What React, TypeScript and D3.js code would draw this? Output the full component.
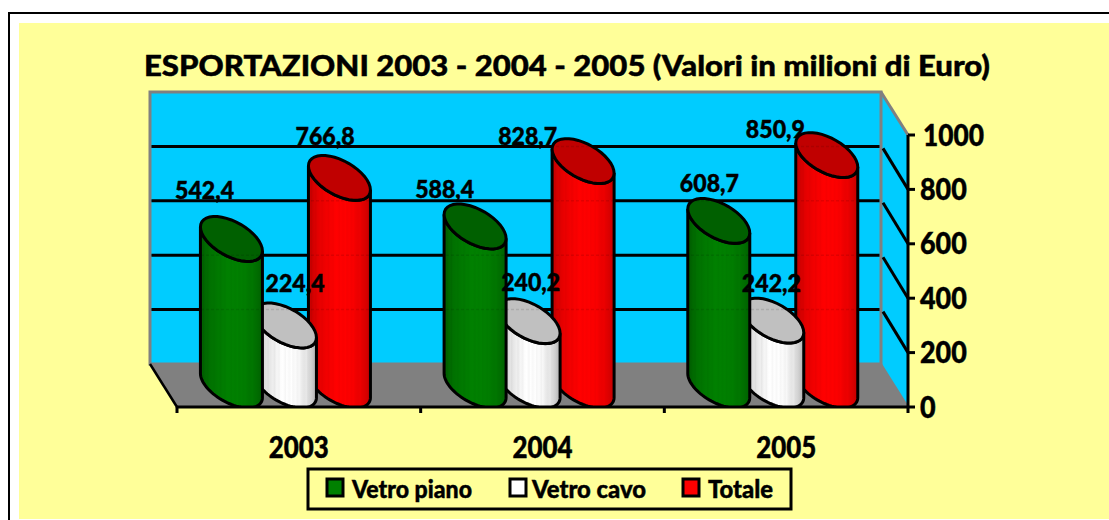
import React from "react";
import * as d3 from "d3";

const categories = ["2003", "2004", "2005"];
const seriesNames = ["Vetro piano", "Vetro cavo", "Totale"];
const vetroPiano = [542.4, 588.4, 608.7];
const vetroCavo = [224.4, 240.2, 242.2];
const totale = [766.8, 828.7, 850.9];
const yTicks = [0, 200, 400, 600, 800, 1000];
const gridTicks = [200, 400, 600, 800];

const title = "ESPORTAZIONI 2003 - 2004 - 2005 (Valori in milioni di Euro)";
const FONT = "Lato, 'Noto Sans', sans-serif";

// series styles, in the same order as seriesNames
const edgeColors = ["#005c00", "#a8a8a8", "#bd0000"];
const midColors = ["#008000", "#ffffff", "#ff0000"];
const topColors = ["#006000", "#c0c0c0", "#c00000"];
const swatchColors = ["#008000", "#ffffff", "#ff0000"];
const seriesOffset = [-54, 0, 54];
// hand-placed data labels, relative to the top of each cylinder
const labelDx = [[-26.5, -30, -9], [10, 2, -1], [-14, -55, -51]];
const labelDy = [[-48, -36, -37], [-41, -38, -37], [-41, -24, -25]];
// vertical facets of the cylinder surface
const facets = [0, .03, .05, .07, .1, .12, .14, .2, .22, .24, .3, .32, .36, .4, .42, .46, .5, .52, .56, .6, .62, .66, .7, .72, .76, .8, .84, .86, .9, .93, .95, 1];
const facetShade = [0.05, 0.2, 0.12, 0.3, 0.42, 0.36, 0.55, 0.68, 0.6, 0.7, 0.82, 0.72, 0.9, 0.85, 0.96, 1, 0.9, 1, 0.92, 1, 0.9, 0.95, 0.85, 0.92, 0.78, 0.7, 0.72, 0.6, 0.5, 0.4, 0.3, 0.1];

const W = 1109, H = 520;
const FRONT = { x0: 177, x1: 908, y0: 407, y1: 135 };
const DX = 27, DY = 43;
const R = 31, TILT = 12, MINOR = 19;

const y = d3.scaleLinear().domain([0, 1000]).range([FRONT.y0, FRONT.y1]);
const band = d3.scaleBand().domain(categories).range([FRONT.x0, FRONT.x1]);
const groupCenter = (c: string) => band(c)! + band.bandwidth() / 2 - 13.8;

const ellipsePoint = (cx: number, cy: number, t: number): [number, number] => [
  cx + R * Math.cos(t),
  cy + TILT * Math.cos(t) + MINOR * Math.sin(t),
];
const curve = d3.line<[number, number]>();
const arcPts = (cx: number, cy: number, a: number, b: number) =>
  d3.range(0, 41).map((i) => ellipsePoint(cx, cy, a + ((b - a) * i) / 40));

function topPath(cx: number, cy: number) {
  return curve(arcPts(cx, cy, 0, Math.PI * 2)) + "Z";
}
function bodyPath(cx: number, cyTop: number, cyBase: number) {
  const front = arcPts(cx, cyBase, Math.PI, 0);
  const back = arcPts(cx, cyTop, 0, Math.PI);
  return curve([...front, ...back]) + "Z";
}

function Cylinder({ cat, s, value }: { cat: string; s: number; value: number }) {
  const cx = groupCenter(cat) + seriesOffset[s] + 0.4;
  const cyBase = y(0) - 21.5;
  const cyTop = y(value) - 20.5;
  return (
    <g>
      <path d={bodyPath(cx, cyTop, cyBase)} fill={`url(#body${s})`} stroke="#000" strokeWidth={3} clipPath="url(#floorClip)" />
      <path d={topPath(cx, cyTop)} fill={topColors[s]} stroke="#000" strokeWidth={3} />
    </g>
  );
}

const HEAVY = { stroke: "#000", strokeWidth: 0.45 };

export default function App() {
  const series = [vetroPiano, vetroCavo, totale];
  const back = { x0: FRONT.x0 - DX, x1: FRONT.x1 - DX, y0: y(0) - DY, y1: y(1000) - DY };
  const legendSwatchX = [327, 510, 683];
  const legendTextX = [352, 532, 708];
  const legendTextLen = [120, 114, 65];
  const axisLabelLen = (t: number) => (t === 1000 ? 61 : String(t).length * 15.6);
  return (
    <svg width={W} height={H} style={{ position: "absolute", left: 0, top: 0, display: "block", background: "#fff" }} fontFamily={FONT} fontWeight={900}>
      <defs>
        {series.map((_, s) => (
          <linearGradient key={s} id={`body${s}`} x1="0" x2="1" y1="0" y2="0">
            {facets.map((o, i) => (
              <stop key={i} offset={o} stopColor={d3.interpolateRgb(edgeColors[s], midColors[s])(facetShade[i])} />
            ))}
          </linearGradient>
        ))}
        <clipPath id="floorClip">
          <rect x={0} y={0} width={W} height={FRONT.y0} />
        </clipPath>
      </defs>

      <rect x={9} y={13} width={W} height={H} fill="none" stroke="#000" strokeWidth={2} />
      <rect x={19} y={23} width={W - 19} height={496} fill="#ffff99" />

      <text x={567} y={75.5} textAnchor="middle" fontSize={27.5} textLength={846} lengthAdjust="spacingAndGlyphs" {...HEAVY}>{title}</text>

      {/* walls and floor */}
      <polygon points={`${back.x0},${back.y0} ${back.x1},${back.y0} ${FRONT.x1},${FRONT.y0} ${FRONT.x0},${FRONT.y0}`} fill="#808080" />
      <polygon points={`${back.x1},${back.y1} ${FRONT.x1},${FRONT.y1} ${FRONT.x1},${FRONT.y0} ${back.x1},${back.y0}`} fill="#00ccff" />
      <line x1={back.x1} y1={back.y1} x2={FRONT.x1} y2={FRONT.y1} stroke="#808080" strokeWidth={3} />
      <line x1={back.x1} y1={back.y0} x2={FRONT.x1} y2={FRONT.y0} stroke="#808080" strokeWidth={2} />
      <rect x={back.x0} y={back.y1} width={back.x1 - back.x0} height={back.y0 - back.y1} fill="#00ccff" stroke="#808080" strokeWidth={3} />

      {gridTicks.map((t) => (
        <g key={t} stroke="#000" strokeWidth={3}>
          <line x1={back.x0 + 1.5} x2={back.x1 - 1.5} y1={y(t) - DY} y2={y(t) - DY} />
          <line x1={back.x1 + 2} x2={FRONT.x1} y1={y(t) - DY + 2} y2={y(t)} />
        </g>
      ))}

      <line x1={back.x0} y1={back.y0} x2={FRONT.x0} y2={FRONT.y0} stroke="#000" strokeWidth={2.5} />

      {/* cylinders: the rear of each group first */}
      {categories.map((c, i) => (
        <g key={c}>
          {[2, 1, 0].map((s) => (
            <Cylinder key={s} cat={c} s={s} value={series[s][i]} />
          ))}
        </g>
      ))}

      {/* gridlines faintly showing through the cylinders */}
      {gridTicks.map((t) => (
        <line key={t} x1={back.x0 + 1} x2={back.x1 - 1} y1={y(t) - DY} y2={y(t) - DY} stroke="#000" strokeWidth={1.5} strokeOpacity={0.1} strokeDasharray="3 2" />
      ))}

      {/* axes */}
      <line x1={FRONT.x0} x2={FRONT.x1} y1={FRONT.y0} y2={FRONT.y0} stroke="#000" strokeWidth={3} />
      <line x1={FRONT.x1} x2={FRONT.x1} y1={FRONT.y1} y2={FRONT.y0 + 6} stroke="#000" strokeWidth={3} />
      {yTicks.map((t) => (
        <g key={t}>
          <line x1={FRONT.x1} x2={FRONT.x1 + 7} y1={y(t)} y2={y(t)} stroke="#000" strokeWidth={3} />
          <text x={t === 1000 ? 923 : 920} y={y(t) + 10.5} fontSize={30} textAnchor="start" textLength={axisLabelLen(t)} lengthAdjust="spacingAndGlyphs" {...HEAVY}>{t}</text>
        </g>
      ))}
      {categories.map((c) => (
        <g key={c}>
          <line x1={band(c)!} x2={band(c)!} y1={FRONT.y0} y2={FRONT.y0 + 6} stroke="#000" strokeWidth={3} />
          <text x={band(c)! + band.bandwidth() / 2} y={457.5} fontSize={30} textAnchor="middle" textLength={60} lengthAdjust="spacingAndGlyphs" {...HEAVY}>{c}</text>
        </g>
      ))}

      {/* data labels */}
      {categories.map((c, i) =>
        series.map((vals, s) => (
          <text
            key={`${c}${s}`}
            x={groupCenter(c) + seriesOffset[s] + labelDx[s][i]}
            y={y(vals[i]) - 21.5 + labelDy[s][i] + 9}
            fontSize={25}
            textAnchor="middle"
            textLength={59}
            lengthAdjust="spacingAndGlyphs"
            {...HEAVY}
          >
            {vals[i].toFixed(1).replace(".", ",")}
          </text>
        ))
      )}

      {/* legend */}
      <rect x={308} y={469} width={483} height={40} fill="none" stroke="#000" strokeWidth={3} />
      {seriesNames.map((n, s) => (
        <g key={n}>
          <rect x={legendSwatchX[s]} y={479} width={16} height={17} fill={swatchColors[s]} stroke="#000" strokeWidth={3} />
          <text x={legendTextX[s]} y={497.5} fontSize={25.5} textLength={legendTextLen[s]} lengthAdjust="spacingAndGlyphs" {...HEAVY}>{n}</text>
        </g>
      ))}
    </svg>
  );
}
